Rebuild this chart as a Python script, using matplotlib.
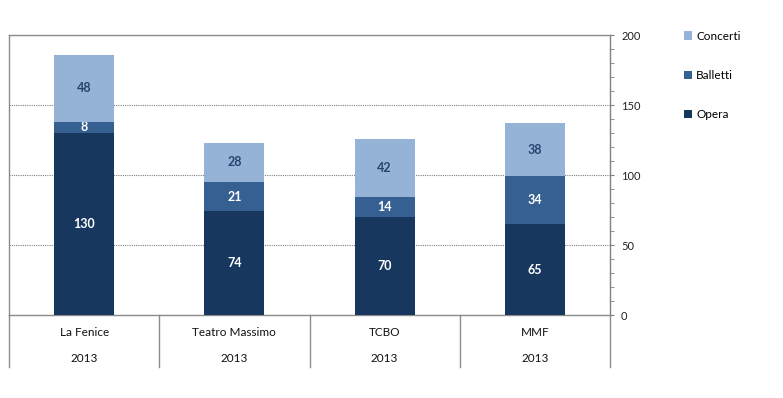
import matplotlib.pyplot as plt
import numpy as np

# Data
venues = ['La Fenice', 'Teatro Massimo', 'TCBO', 'MMF']
years = ['2013', '2013', '2013', '2013']
opera = [130, 74, 70, 65]
balletti = [8, 21, 14, 34]
concerti = [48, 28, 42, 38]
series_names = ['Opera', 'Balletti', 'Concerti']

colors = ['#17375E', '#376092', '#95B3D7']
label_colors = ['white', 'white', '#254570']

plt.rcParams['font.family'] = ['Lato', 'DejaVu Sans']

fig = plt.figure(figsize=(7.83, 3.98), dpi=100)
ax = fig.add_axes([9 / 783, 83 / 398, 601 / 783, 280 / 398])

x = np.arange(len(venues))
bottom = np.zeros(len(venues))
handles = []
for name, vals, col, lcol in zip(series_names, [opera, balletti, concerti], colors, label_colors):
    bars = ax.bar(x, vals, width=0.4, bottom=bottom, color=col, label=name, zorder=3)
    ax.bar_label(bars, labels=[str(v) for v in vals], label_type='center',
                 color=lcol, fontsize=9, fontweight='bold')
    handles.append(bars)
    bottom += np.array(vals)

ax.set_xlim(-0.5, len(venues) - 0.5)
ax.set_ylim(0, 200)

# right axis
ax.yaxis.tick_right()
ax.set_yticks([0, 50, 100, 150, 200])
ax.set_yticks(np.arange(0, 201, 10), minor=True)
ax.tick_params(axis='y', which='both', direction='out', length=3, color='#808080',
               labelsize=8, pad=5, labelcolor='#222222')
ax.tick_params(axis='x', bottom=False, labelbottom=False)
ax.grid(axis='y', which='major', linestyle=(0, (1, 1)), color='#808080', linewidth=0.8, zorder=0)

for s in ['left', 'top', 'bottom']:
    ax.spines[s].set_color('#8c8c8c')
ax.spines['right'].set_color('#808080')
for s in ax.spines.values():
    s.set_linewidth(1.0)

# category table below
box_h = 52 / 280
for b in np.arange(-0.5, len(venues), 1.0):
    ax.plot([b, b], [0, -box_h * 200], color='#8c8c8c', lw=1.0, clip_on=False,
            transform=ax.transData)
for xi, v, yr in zip(x, venues, years):
    ax.text(xi, -18 / 280 * 200, v, ha='center', va='center', fontsize=8.5, color='#111111')
    ax.text(xi, -43 / 280 * 200, yr, ha='center', va='center', fontsize=8.5, color='#111111')

leg = fig.legend(handles=handles[::-1], labels=series_names[::-1], loc='upper left',
                 bbox_to_anchor=(673 / 783, 1 - 20 / 398), frameon=False,
                 fontsize=8.5, labelspacing=2.4, handlelength=0.75, handleheight=0.75,
                 handletextpad=0.3)

fig.savefig('out.png', dpi=100, facecolor='white')
